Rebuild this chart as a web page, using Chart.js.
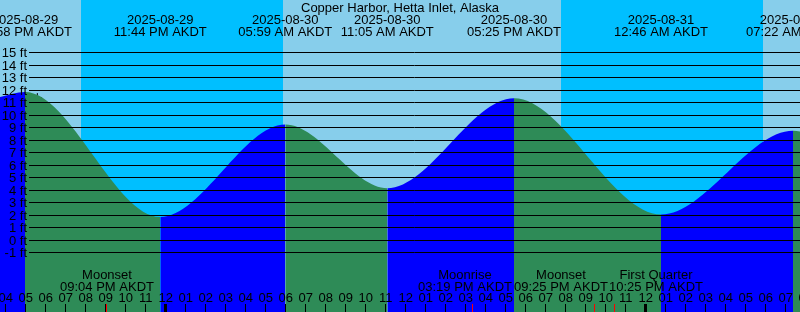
<!DOCTYPE html>
<html>
<head>
<meta charset="utf-8">
<title>Copper Harbor tides</title>
<script src="https://cdn.jsdelivr.net/npm/chart.js@4/dist/chart.umd.min.js"></script>
<style>
  html, body { margin: 0; padding: 0; background: #fff; }
  #wrap { width: 800px; height: 312px; }
  canvas { display: block; }
</style>
</head>
<body>
<div id="wrap"><canvas id="chart-tide" width="800" height="312"></canvas></div>
<script>
const TITLE = 'Copper Harbor, Hetta Inlet, Alaska';
const ZONE = 'AKDT';

// high and low tides
const tideTimes = ['2025-08-29 04:58 PM', '2025-08-29 11:44 PM', '2025-08-30 05:59 AM', '2025-08-30 11:05 AM',
  '2025-08-30 05:25 PM', '2025-08-31 12:46 AM', '2025-08-31 07:22 AM'];
const tideHeights = [11.8, 1.8, 9.2, 4.1, 11.3, 2.0, 8.7];

// shown window and the water level at its two edges
const windowStart = '2025-08-29 03:43 PM';
const windowEnd = '2025-08-31 07:43 AM';
const edgeHeights = [11.4, 8.65];

// night (sunset -> sunrise)
const sunsets = ['2025-08-29 07:46 PM', '2025-08-30 07:46 PM'];
const sunrises = ['2025-08-30 05:52 AM', '2025-08-31 05:52 AM'];

// moon events
const moonTimes = ['2025-08-29 09:04 PM', '2025-08-30 03:19 PM', '2025-08-30 09:25 PM', '2025-08-30 10:25 PM'];
const moonEvents = ['Moonset', 'Moonrise', 'Moonset', 'First Quarter'];

// "+" mark on the curve
const markTime = '2025-08-29 05:35 PM';
const markHeight = 11.35;

// level lines (ft)
const levelTicks = [15, 14, 13, 12, 11, 10, 9, 8, 7, 6, 5, 4, 3, 2, 1, 0, -1];
const levelMin = -5.8;
const levelMax = 19.16;

const COLORS = {
  day: '#87CEEB',
  night: '#00BFFF',
  rising: '#0000FF',
  falling: '#2E8B57',
  text: '#000000',
  moonTick: '#FF0000'
};
const FONT = '13px "Liberation Sans", Arial, sans-serif';
const LINE_LEFT = 29;
const moonLabelShift = [0, -7, -33, 42];

// hours relative to 2025-08-30 00:00
function toHours(s) {
  const m = s.match(/(\d+)-(\d+)-(\d+) (\d+):(\d+) (AM|PM)/);
  let hh = +m[4] % 12;
  if (m[6] === 'PM') hh += 12;
  return (Date.UTC(+m[1], +m[2] - 1, +m[3], hh, +m[5]) - Date.UTC(2025, 7, 30)) / 3600000;
}

function timeText(s) {
  return s.split(' ').slice(1).join(' ') + ' ' + ZONE;
}

const tidePoints = [{ x: toHours(windowStart), y: edgeHeights[0] }]
  .concat(tideTimes.map((t, i) => ({ x: toHours(t), y: tideHeights[i] })))
  .concat([{ x: toHours(windowEnd), y: edgeHeights[1] }]);

const skyPlugin = {
  id: 'sky',
  beforeDatasetsDraw(chart) {
    const { ctx, chartArea: a, scales: { x } } = chart;
    ctx.save();
    ctx.fillStyle = COLORS.day;
    ctx.fillRect(a.left, a.top, a.width, a.height);
    ctx.fillStyle = COLORS.night;
    sunsets.forEach((s, i) => {
      const x0 = Math.round(x.getPixelForValue(toHours(s)));
      const x1 = Math.round(x.getPixelForValue(toHours(sunrises[i])));
      ctx.fillRect(x0, a.top, x1 - x0, a.height);
    });
    ctx.restore();
  }
};

const overlayPlugin = {
  id: 'overlay',
  afterDatasetsDraw(chart) {
    const { ctx, chartArea: a, scales: { x, y } } = chart;
    ctx.save();
    ctx.font = FONT;
    ctx.fillStyle = COLORS.text;

    // level lines + labels
    ctx.strokeStyle = COLORS.text;
    ctx.lineWidth = 1;
    ctx.textAlign = 'right';
    ctx.textBaseline = 'alphabetic';
    for (const v of levelTicks) {
      const row = Math.round(y.getPixelForValue(v));
      ctx.beginPath();
      ctx.moveTo(LINE_LEFT, row + 0.5);
      ctx.lineTo(a.right, row + 0.5);
      ctx.stroke();
      ctx.fillText(v + ' ft', 27, row + 5);
    }

    // title and tide event labels
    ctx.textAlign = 'center';
    ctx.fillText(TITLE, 400, 12);
    tideTimes.forEach(t => {
      const px = x.getPixelForValue(toHours(t));
      ctx.fillText(t.split(' ')[0], px, 24);
      ctx.fillText(timeText(t), px, 36);
    });

    // hour ticks and labels
    for (let h = Math.ceil(x.min) - 1; h <= Math.floor(x.max) + 1; h++) {
      const px = x.getPixelForValue(h);
      const hod = ((h % 24) + 24) % 24;
      const lbl = String((hod % 12) || 12).padStart(2, '0');
      ctx.fillText(lbl, px, 302);
      if (hod === 0) ctx.fillRect(Math.floor(px) - 1, 304, 3, a.bottom - 304);
      else ctx.fillRect(Math.floor(px), 304, 1, a.bottom - 304);
    }

    // moon events
    moonTimes.forEach((t, i) => {
      const px = x.getPixelForValue(toHours(t));
      ctx.fillStyle = COLORS.moonTick;
      ctx.fillRect(Math.floor(px), 304, 1, a.bottom - 304);
      ctx.fillStyle = COLORS.text;
      ctx.fillText(moonEvents[i], px + moonLabelShift[i], 279);
      ctx.fillText(timeText(t), px + moonLabelShift[i], 290.5);
    });
    ctx.restore();
  }
};

const canvas = document.getElementById('chart-tide');
new Chart(canvas, {
  type: 'line',
  data: {
    datasets: [
      {
        data: tidePoints,
        fill: 'start',
        borderColor: 'rgba(0,0,0,0)',
        borderWidth: 0,
        pointRadius: 0,
        cubicInterpolationMode: 'monotone',
        backgroundColor: COLORS.rising,
        segment: {
          backgroundColor: c => c.p1.parsed.y < c.p0.parsed.y ? COLORS.falling : COLORS.rising
        }
      },
      {
        type: 'scatter',
        data: [{ x: toHours(markTime), y: markHeight }],
        pointStyle: 'cross',
        pointRadius: 4.5,
        borderColor: COLORS.text,
        borderWidth: 1,
        showLine: false
      }
    ]
  },
  options: {
    responsive: false,
    animation: false,
    events: [],
    layout: { padding: 0, autoPadding: false },
    plugins: {
      legend: { display: false },
      tooltip: { enabled: false },
      title: { display: false }
    },
    scales: {
      x: { type: 'linear', display: false, min: toHours(windowStart), max: toHours(windowEnd) },
      y: { type: 'linear', display: false, min: levelMin, max: levelMax }
    }
  },
  plugins: [skyPlugin, overlayPlugin]
});
</script>
</body>
</html>
